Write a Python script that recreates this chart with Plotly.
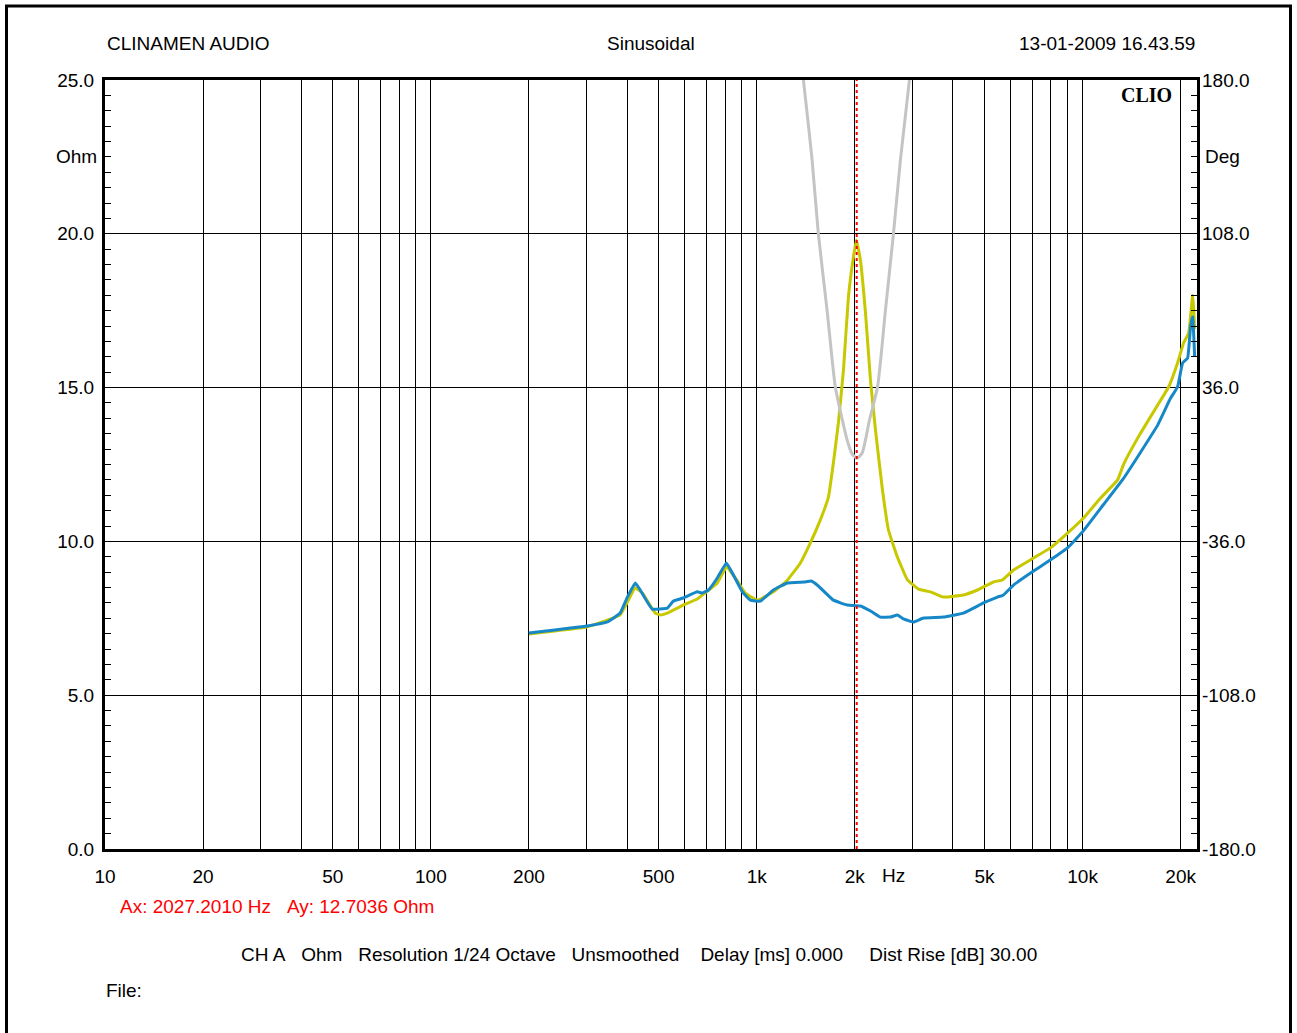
import math
import plotly.graph_objects as go

# ---- impedance magnitude, channel 1 (blue) : frequency [Hz], |Z| [Ohm]
blue_freq = [200, 302, 348, 381, 401, 424, 439, 478, 532, 555, 595, 657, 681, 711,
             757, 807, 848, 904, 956, 1026, 1125, 1242, 1400, 1470, 1546, 1719, 1899,
             2080, 2250, 2397, 2573, 2703, 2820, 3027, 3249, 3743, 4311, 4966, 5483,
             5720, 6140, 6924, 7974, 8994, 10070, 11600, 13360, 15070, 17000, 18630,
             19570, 20280, 21010, 21460, 21770, 22080]
blue_ohm = [7.02, 7.25, 7.38, 7.67, 8.19, 8.65, 8.42, 7.80, 7.83, 8.06, 8.16, 8.36, 8.32, 8.42,
            8.81, 9.30, 8.91, 8.36, 8.09, 8.06, 8.42, 8.65, 8.68, 8.71, 8.55, 8.09, 7.93,
            7.90, 7.72, 7.54, 7.54, 7.61, 7.48, 7.38, 7.51, 7.54, 7.67, 8.00, 8.19,
            8.26, 8.58, 8.97, 9.40, 9.79, 10.35, 11.20, 12.05, 12.90, 13.78, 14.66,
            15.02, 15.80, 15.96, 17.00, 17.30, 16.00]

# ---- impedance magnitude, channel 2 (yellow)
yellow_freq = [200, 302, 381, 401, 424, 446, 488, 506, 532, 595, 657, 701, 757, 807,
               860, 923, 1005, 1125, 1242, 1362, 1461, 1568, 1660, 1719, 1781, 1846,
               1912, 1981, 2023, 2081, 2157, 2234, 2315, 2432, 2537, 2703, 2901, 3136,
               3415, 3743, 4311, 4760, 5330, 5680, 6140, 7072, 7974, 8994, 10070, 11360,
               12810, 13360, 15070, 17000, 18370, 19570, 20420, 21160, 21770, 21920, 22080]
yellow_ohm = [6.99, 7.22, 7.61, 8.03, 8.49, 8.32, 7.67, 7.61, 7.67, 7.93, 8.13, 8.36, 8.65, 9.17,
              8.81, 8.32, 8.09, 8.36, 8.74, 9.30, 9.95, 10.70, 11.44, 12.55, 13.85, 15.57,
              17.95, 19.25, 19.80, 19.15, 17.43, 15.25, 13.62, 11.67, 10.37, 9.49, 8.75, 8.45,
              8.36, 8.19, 8.26, 8.42, 8.68, 8.75, 9.07, 9.46, 9.79, 10.27, 10.76, 11.41,
              12.00, 12.50, 13.52, 14.43, 15.02, 15.80, 16.45, 16.77, 18.00, 17.60, 16.90]

# ---- phase (grey) : frequency [Hz], phase [deg]
phase_freq = [1391, 1479, 1546, 1644, 1744, 1832, 1894, 1958, 2027.2, 2104, 2157, 2218,
              2347, 2484, 2628, 2761, 2942]
phase_deg = [180, 142.6, 108, 72.3, 36, 20.8, 11.5, 5.2, 2.93, 5.2, 11.5, 20.8,
             36, 72.3, 108, 142.6, 180]

# ---- cursor readout
cursor_hz = 2027.2010
cursor_ohm = 12.7036

# ---- axis ticks
x_grid = [10, 20, 30, 40, 50, 60, 70, 80, 90,
          100, 200, 300, 400, 500, 600, 700, 800, 900,
          1000, 2000, 3000, 4000, 5000, 6000, 7000, 8000, 9000,
          10000, 20000]
x_labels = {10: "10", 20: "20", 50: "50", 100: "100", 200: "200", 500: "500",
            1000: "1k", 2000: "2k", 5000: "5k", 10000: "10k", 20000: "20k"}
ohm_ticks = [0, 5, 10, 15, 20, 25]
deg_ticks = [-180, -108, -36, 36, 108, 180]

W, H = 1297, 1033
L, R, T, B = 105, 1197, 80, 849  # plot area in pixels


def px(xp):
    return (xp - L) / (R - L)


def py(yp):
    return (B - yp) / (B - T)


FONT = "Liberation Sans, Arial, sans-serif"
TXT = dict(family=FONT, size=19, color="#000000")

fig = go.Figure()

fig.add_trace(go.Scatter(x=phase_freq, y=phase_deg, yaxis="y2", mode="lines",
                         line=dict(color="#c4c4c4", width=3, shape="spline", smoothing=0.6),
                         hoverinfo="skip", showlegend=False))
fig.add_trace(go.Scatter(x=yellow_freq, y=yellow_ohm, mode="lines",
                         line=dict(color="#c8c800", width=3, shape="spline", smoothing=0.3),
                         hoverinfo="skip", showlegend=False))
fig.add_trace(go.Scatter(x=blue_freq, y=blue_ohm, mode="lines",
                         line=dict(color="#1688c8", width=3, shape="spline", smoothing=0.3),
                         hoverinfo="skip", showlegend=False))

# cursor marker
fig.add_shape(type="line", xref="x", yref="paper", x0=cursor_hz, x1=cursor_hz, y0=0, y1=1,
              line=dict(color="#ff0000", width=2, dash="3px,3px"), layer="above")

# outer frame of the sheet
fig.add_shape(type="rect", xref="paper", yref="paper",
              x0=px(6.5), x1=px(1290.5), y0=py(1060), y1=py(6),
              line=dict(color="#000000", width=3), layer="above")

ann = []


def text(x, y, s, xanchor="left", color="#000000", font=None):
    f = dict(TXT) if font is None else font
    f["color"] = color
    ann.append(dict(x=px(x), y=py(y), xref="paper", yref="paper", text=s, showarrow=False,
                    xanchor=xanchor, yanchor="middle", font=f))


sp = "\u00a0"
text(105, 44, "CLINAMEN AUDIO")
text(651, 44, "Sinusoidal", xanchor="center")
text(1197, 44, "13-01-2009 16.43.59", xanchor="right")
text(99, 157, "Ohm", xanchor="right")
text(1203, 157, "Deg")
text(1174, 95, "<b>CLIO</b>", xanchor="right",
     font=dict(family="Liberation Serif, DejaVu Serif, serif", size=20))
text(880, 875, "Hz")
text(118, 906, f"Ax: {cursor_hz:.4f} Hz{sp*3}Ay: {cursor_ohm:.4f} Ohm", color="#ff0000")
text(239, 954, f"CH A{sp*3}Ohm{sp*3}Resolution 1/24 Octave{sp*3}Unsmoothed{sp*4}"
               f"Delay [ms] 0.000{sp*5}Dist Rise [dB] 30.00")
text(104, 990, "File:")

fig.update_layout(
    width=W, height=H,
    margin=dict(l=L, r=W - R, t=T, b=H - B, pad=0),
    paper_bgcolor="#ffffff", plot_bgcolor="#ffffff",
    font=TXT,
    annotations=ann,
    showlegend=False,
    xaxis=dict(type="log", range=[1, math.log10(22450)],
               tickvals=x_grid, ticktext=[x_labels.get(v, "") for v in x_grid],
               showgrid=True, gridcolor="#000000", gridwidth=1,
               showline=True, linecolor="#000000", linewidth=3, mirror=True,
               ticks="", tickfont=TXT, zeroline=False, ticklabelstandoff=8),
    yaxis=dict(range=[0, 25], tickvals=ohm_ticks, ticktext=[f"{v:.1f}" for v in ohm_ticks],
               showgrid=True, gridcolor="#000000", gridwidth=1,
               showline=True, linecolor="#000000", linewidth=3, mirror=True,
               ticks="inside", ticklen=6, tickcolor="#000000", tickwidth=1,
               minor=dict(dtick=0.5, ticks="inside", ticklen=6, tickcolor="#000000",
                          showgrid=False),
               tickfont=TXT, zeroline=False, ticklabelstandoff=4),
    yaxis2=dict(range=[-180, 180], overlaying="y", side="right",
                tickvals=deg_ticks, ticktext=[f"{v:.1f}" for v in deg_ticks],
                showgrid=False, zeroline=False,
                ticks="inside", ticklen=6, tickcolor="#000000", tickwidth=1,
                minor=dict(dtick=7.2, ticks="inside", ticklen=6, tickcolor="#000000",
                           showgrid=False),
                tickfont=TXT, ticklabelstandoff=4),
)

fig.write_html("out.html")
